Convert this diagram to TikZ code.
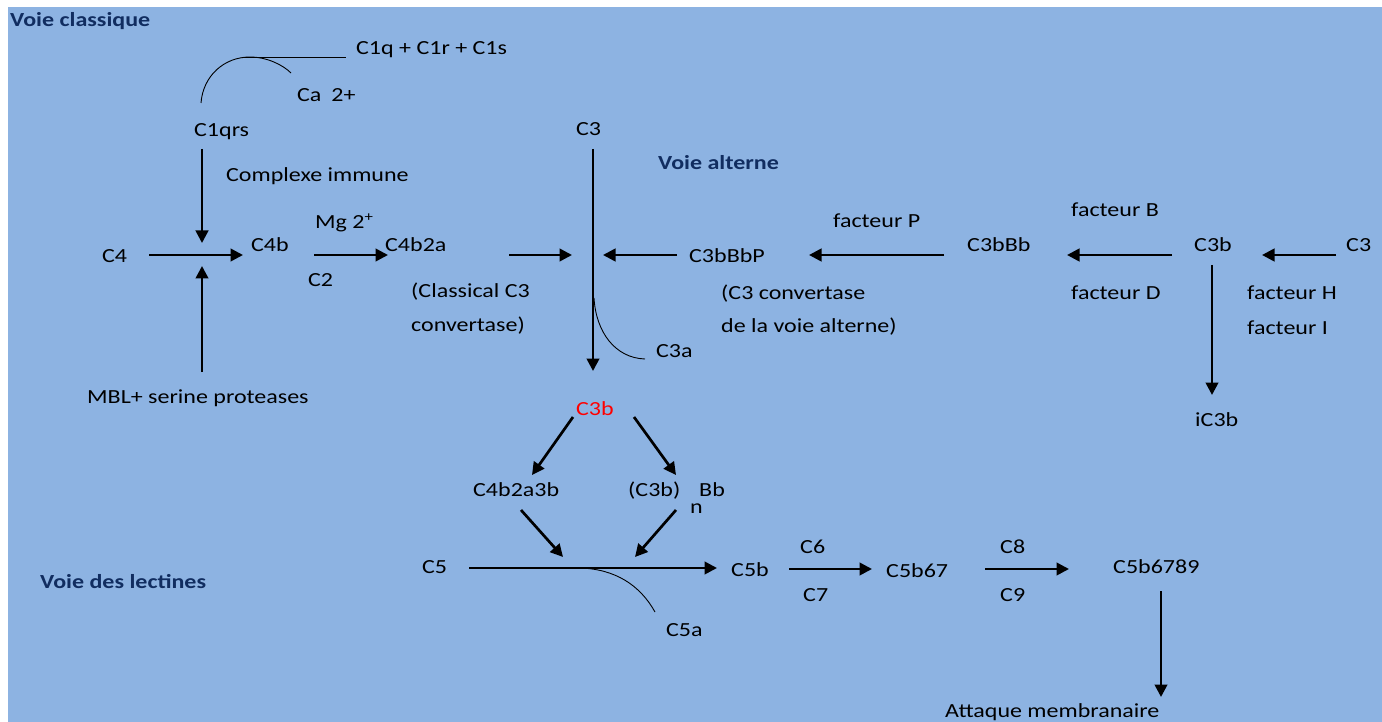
\documentclass[tikz,border=0pt]{standalone}
\usepackage{fontspec}
\setmainfont[FakeStretch=1.2]{Carlito}
\usetikzlibrary{arrows.meta}
\definecolor{bg}{HTML}{8DB3E2}
\definecolor{navy}{HTML}{112D60}
\definecolor{cred}{HTML}{FF0000}
\begin{document}
\begin{tikzpicture}[x=1pt,y=-1pt,
  lbl/.style={inner sep=0pt, anchor=base west, font=\fontsize{20}{24}\selectfont},
  heading/.style={lbl, font=\fontsize{20}{24}\selectfont\bfseries, text=navy},
  arr/.style={line width=2.7pt, -{Triangle[length=12.5pt,width=12.5pt]}},
  fine/.style={line width=0.9pt}]
\useasboundingbox (0,0) rectangle (1382,722);
\fill[bg] (8,7) rectangle (1382,722);

% headings
\node[heading] (hcl) at (10,27) {Voie classique};
\node[heading] (hal) at (658,170) {Voie alterne};
\node[heading] (hle) at (40,588) {Voie des lectines};

% classical pathway
\node[lbl] (c1) at (356,55) {C1q + C1r + C1s};
\node[lbl] (ca) at (297,102) {Ca\,\,\,2+};
\node[lbl] (c1qrs) at (194,137) {C1qrs};
\node[lbl] (ci) at (226,182) {Complexe immune};
\node[lbl] (c4) at (102,263) {C4};
\node[lbl] (c4b) at (251,252) {C4b};
\node[lbl] (mg) at (315,229) {Mg 2\textsuperscript{+}};
\node[lbl] (c2) at (308,287) {C2};
\node[lbl] (c4b2a) at (385,252) {C4b2a};
\node[lbl] (cc1) at (411,298) {(Classical C3};
\node[lbl] (cc2) at (411,331) {convertase)};
\node[lbl] (mbl) at (87,403) {MBL+ serine proteases};

% central C3 cleavage
\node[lbl] (c3top) at (576,136) {C3};
\node[lbl] (c3a) at (656,357) {C3a};
\node[lbl, text=cred] (c3bred) at (576,415) {C3b};

% alternative pathway
\node[lbl] (c3bbbp) at (689,263) {C3bBbP};
\node[lbl] (ac1) at (721,299) {(C3 convertase};
\node[lbl] (ac2) at (721,332) {de la voie alterne)};
\node[lbl] (fp) at (833,228) {facteur P};
\node[lbl] (c3bbb) at (967,252) {C3bBb};
\node[lbl] (fb) at (1071,217) {facteur B};
\node[lbl] (fd) at (1071,299) {facteur D};
\node[lbl] (c3bR) at (1194,252) {C3b};
\node[lbl] (c3R) at (1346,252) {C3};
\node[lbl] (fh) at (1247,299) {facteur H};
\node[lbl] (fi) at (1247,334) {facteur I};
\node[lbl] (ic3b) at (1195,426) {iC3b};

% C5 convertases and terminal pathway
\node[lbl] (c4b2a3b) at (473,496) {C4b2a3b};
\node[lbl] (c3bn) at (628,496) {(C3b)};
\node[lbl] (nsub) at (690,513) {n};
\node[lbl] (bb) at (699,496) {Bb};
\node[lbl] (c5) at (422,573) {C5};
\node[lbl] (c5a) at (666,636) {C5a};
\node[lbl] (c5b) at (731,576) {C5b};
\node[lbl] (c6) at (800,553) {C6};
\node[lbl] (c7) at (803,601) {C7};
\node[lbl] (c5b67) at (886,577) {C5b67};
\node[lbl] (c8) at (1000,553) {C8};
\node[lbl] (c9) at (1000,601) {C9};
\node[lbl] (c5b6789) at (1113,573) {C5b6789};
\node[lbl] (mac) at (945,717) {Attaque membranaire};

% connector end points
\coordinate (l1a) at (243,57);  \coordinate (l1b) at (346,57);
\coordinate (k1) at (201,103);  \coordinate (k2) at (250,57); \coordinate (k3) at (291,73);
\coordinate (d1a) at (202,149); \coordinate (d1b) at (202,243);
\coordinate (u1a) at (202,372); \coordinate (u1b) at (202,266);
\coordinate (h1a) at (149,255); \coordinate (h1b) at (243,255);
\coordinate (h2a) at (314,255); \coordinate (h2b) at (388,255);
\coordinate (h3a) at (509,255); \coordinate (h3b) at (572,255);
\coordinate (v3a) at (593,149); \coordinate (v3b) at (593,371);
\coordinate (s3a) at (594,298); \coordinate (s3b) at (645,359);
\coordinate (h4a) at (677,255); \coordinate (h4b) at (603,255);
\coordinate (h5a) at (944,255); \coordinate (h5b) at (809,255);
\coordinate (h6a) at (1172,255); \coordinate (h6b) at (1067,255);
\coordinate (h7a) at (1336,255); \coordinate (h7b) at (1262,255);
\coordinate (v7a) at (1212,265); \coordinate (v7b) at (1212,395);
\coordinate (g1a) at (573,417); \coordinate (g1b) at (532,475);
\coordinate (g2a) at (634,417); \coordinate (g2b) at (676,475);
\coordinate (g3a) at (521,510); \coordinate (g3b) at (563,557);
\coordinate (g4a) at (676,510); \coordinate (g4b) at (635,557);
\coordinate (h8a) at (469,568); \coordinate (h8b) at (717,568);
\coordinate (s5a) at (580,568); \coordinate (s5b) at (655,612);
\coordinate (h9a) at (789,569); \coordinate (h9b) at (872,569);
\coordinate (h10a) at (985,569); \coordinate (h10b) at (1069,569);
\coordinate (v10a) at (1161,591); \coordinate (v10b) at (1161,697);

% C1 assembly
\draw[fine] (l1a) -- (l1b);
\draw[fine] (k1) .. controls (203,76) and (224,57) .. (k2) .. controls (267,57) and (283,65) .. (k3);

% arrows
\draw[arr] (d1a) -- (d1b);
\draw[arr] (u1a) -- (u1b);
\draw[arr] (h1a) -- (h1b);
\draw[arr] (h2a) -- (h2b);
\draw[arr] (h3a) -- (h3b);
\draw[arr] (v3a) -- (v3b);
\draw[fine] (s3a) .. controls (596,332) and (615,358) .. (s3b);
\draw[arr] (h4a) -- (h4b);
\draw[arr] (h5a) -- (h5b);
\draw[arr] (h6a) -- (h6b);
\draw[arr] (h7a) -- (h7b);
\draw[arr] (v7a) -- (v7b);
\draw[arr] (g1a) -- (g1b);
\draw[arr] (g2a) -- (g2b);
\draw[arr] (g3a) -- (g3b);
\draw[arr] (g4a) -- (g4b);
\draw[arr] (h8a) -- (h8b);
\draw[fine] (s5a) .. controls (615,569) and (640,585) .. (s5b);
\draw[arr] (h9a) -- (h9b);
\draw[arr] (h10a) -- (h10b);
\draw[arr] (v10a) -- (v10b);
\end{tikzpicture}
\end{document}
